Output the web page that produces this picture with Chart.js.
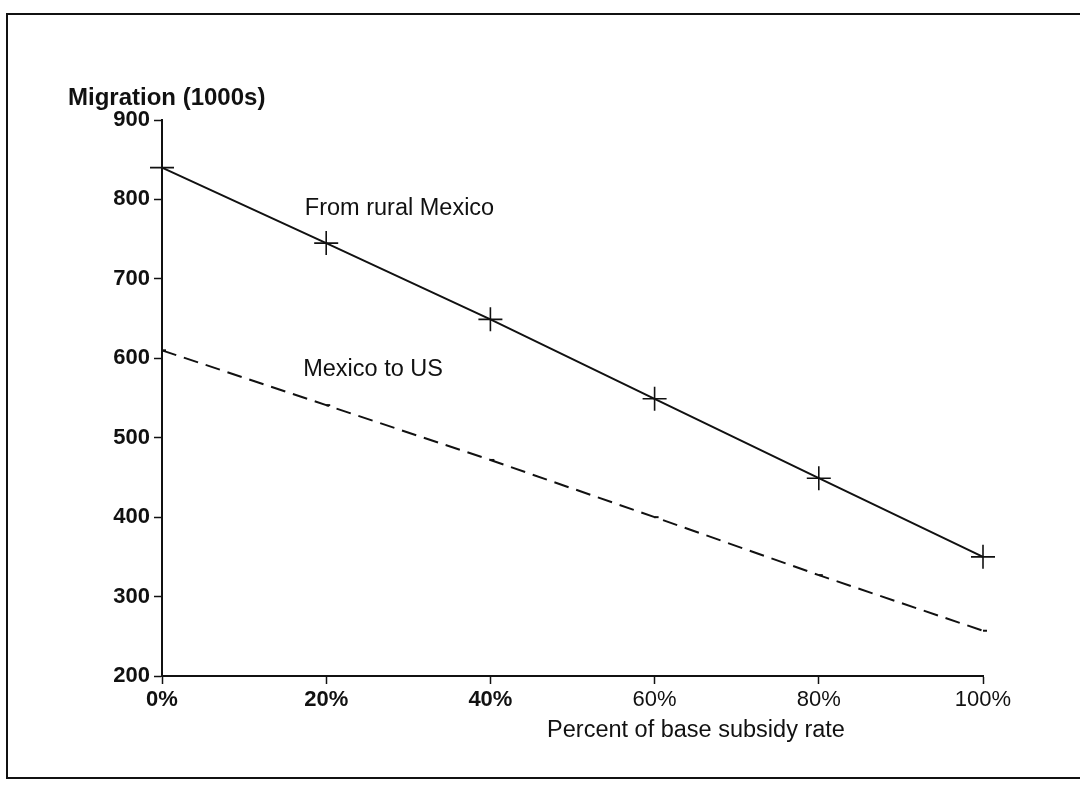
<!DOCTYPE html>
<html>
<head>
<meta charset="utf-8">
<title>Migration vs subsidy rate</title>
<script src="https://cdn.jsdelivr.net/npm/chart.js@4.4.1/dist/chart.umd.min.js"></script>
<style>
  html, body { margin: 0; padding: 0; background: #fff; }
  #wrap { position: relative; width: 1080px; height: 789px; overflow: hidden; }
  #frame { position: absolute; left: 6px; top: 13px; width: 1090px; height: 766px; border: 2px solid #111; box-sizing: border-box; }
  canvas { position: absolute; left: 0; top: 0; }
</style>
</head>
<body>
<div id="wrap">
  <div id="frame"></div>
  <canvas id="migChart" width="1080" height="789"></canvas>
</div>
<script>
// ============ DATA ============
const subsidyPct  = [0, 20, 40, 60, 80, 100];
const ruralMexico = [840, 745, 649, 549, 449, 350];
const mexicoToUS  = [610, 541, 472, 400, 327, 257];
const xTicks = [0, 20, 40, 60, 80, 100];
const yTicks = [200, 300, 400, 500, 600, 700, 800, 900];

const FONT = '"Liberation Sans", Arial, Helvetica, sans-serif';

// ============ TEXT LABELS ============
const textLabels = {
  id: 'textLabels',
  afterDraw(chart) {
    const { ctx, scales: { x, y } } = chart;
    ctx.save();
    ctx.fillStyle = '#111';
    ctx.textBaseline = 'middle';
    ctx.textAlign = 'left';
    ctx.font = 'bold 24px ' + FONT;
    ctx.fillText('Migration (1000s)', 68, 98);
    ctx.font = '23.5px ' + FONT;
    ctx.fillText('From rural Mexico', x.getPixelForValue(17.4), y.getPixelForValue(789));
    ctx.fillText('Mexico to US', x.getPixelForValue(17.2), y.getPixelForValue(586));
    ctx.textAlign = 'center';
    ctx.fillText('Percent of base subsidy rate', 696, 731);
    ctx.restore();
  }
};

// ============ CHART ============
function toXY(vals) {
  return vals.map((v, i) => ({ x: subsidyPct[i], y: v }));
}

const ctx = document.getElementById('migChart');
new Chart(ctx, {
  type: 'line',
  data: {
    datasets: [
      {
        label: 'From rural Mexico',
        data: toXY(ruralMexico),
        borderColor: '#111',
        borderWidth: 2,
        pointStyle: 'cross',
        pointRadius: 12,
        pointBorderWidth: 1.6,
        pointBorderColor: '#111',
        fill: false,
        tension: 0,
        clip: false
      },
      {
        label: 'Mexico to US',
        data: toXY(mexicoToUS),
        borderColor: '#111',
        borderWidth: 2,
        borderDash: [15, 8],
        pointStyle: 'dash',
        pointRadius: 4,
        pointBorderWidth: 2,
        pointBorderColor: '#111',
        fill: false,
        tension: 0,
        clip: false
      }
    ]
  },
  options: {
    responsive: false,
    animation: false,
    layout: { padding: { left: 0, top: 120, right: 97, bottom: 0 } },
    plugins: { legend: { display: false }, tooltip: { enabled: false } },
    scales: {
      x: {
        type: 'linear',
        min: 0, max: 100,
        afterBuildTicks: s => { s.ticks = xTicks.map(v => ({ value: v })); },
        afterFit: s => { s.height = 789 - 676; },
        border: { color: '#111', width: 2 },
        grid: { drawOnChartArea: false, drawTicks: true, tickLength: 8, color: '#111', tickWidth: 1.5 },
        ticks: {
          color: '#111',
          padding: 3,
          maxRotation: 0,
          font: c => ({ family: FONT, size: 22, weight: (c.tick && c.tick.value < 50) ? 'bold' : 'normal' }),
          callback: v => v + '%'
        }
      },
      y: {
        min: 200, max: 900,
        afterBuildTicks: s => { s.ticks = yTicks.map(v => ({ value: v })); },
        afterFit: s => { s.width = 162; },
        border: { color: '#111', width: 2 },
        grid: { drawOnChartArea: false, drawTicks: true, tickLength: 8, color: '#111', tickWidth: 1.5 },
        ticks: {
          color: '#111',
          padding: 4,
          font: { family: FONT, size: 22, weight: 'bold' }
        }
      }
    }
  },
  plugins: [textLabels]
});
</script>
</body>
</html>
